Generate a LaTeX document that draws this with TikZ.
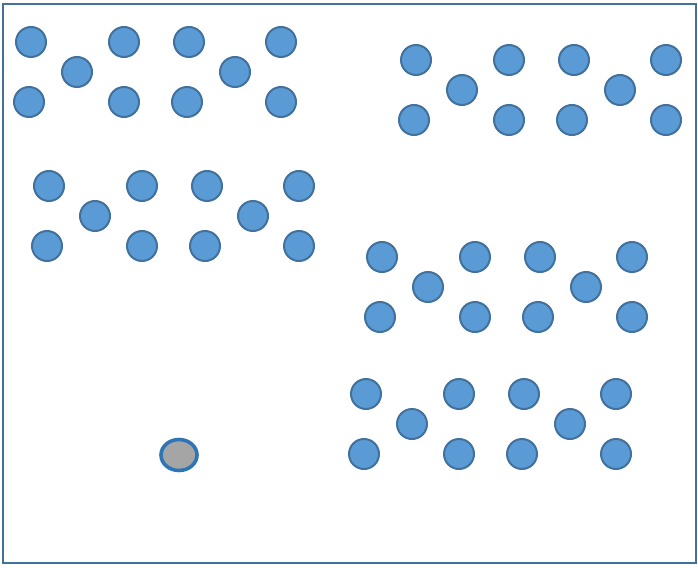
\documentclass[tikz,border=0pt]{standalone}
\usetikzlibrary{shapes.geometric}
\definecolor{dotfill}{HTML}{5B9BD5}
\definecolor{dotedge}{HTML}{41719C}
\definecolor{ballfill}{HTML}{A5A5A5}
\definecolor{balledge}{HTML}{2E75B6}
\tikzset{
  dot/.style={circle,draw=dotedge,fill=dotfill,line width=2pt,minimum size=30pt,inner sep=0pt},
  ball/.style={ellipse,draw=balledge,fill=ballfill,line width=3.6pt,minimum width=36pt,minimum height=31pt,inner sep=0pt}
}
\begin{document}
\begin{tikzpicture}[x=1pt,y=-1pt]
  \useasboundingbox (0,0) rectangle (698,567);
  \draw[dotedge,line width=1.8pt] (3,4) rectangle (696,563);

  % five groups, each two crosses of five dots
  \foreach \g/\gx/\gy in {1/31/42, 2/416/60, 3/49/186, 4/382/257, 5/366/394}{
    \foreach \k/\dx/\dy in {1/0/0, 2/-2/60, 3/46/30, 4/93/0, 5/93/60,
                            6/158/0, 7/156/60, 8/204/30, 9/250/0, 10/250/60}
      \node[dot] (d\g-\k) at (\gx+\dx,\gy+\dy) {};
  }

  \node[ball] (ball) at (179,455) {};
\end{tikzpicture}
\end{document}
